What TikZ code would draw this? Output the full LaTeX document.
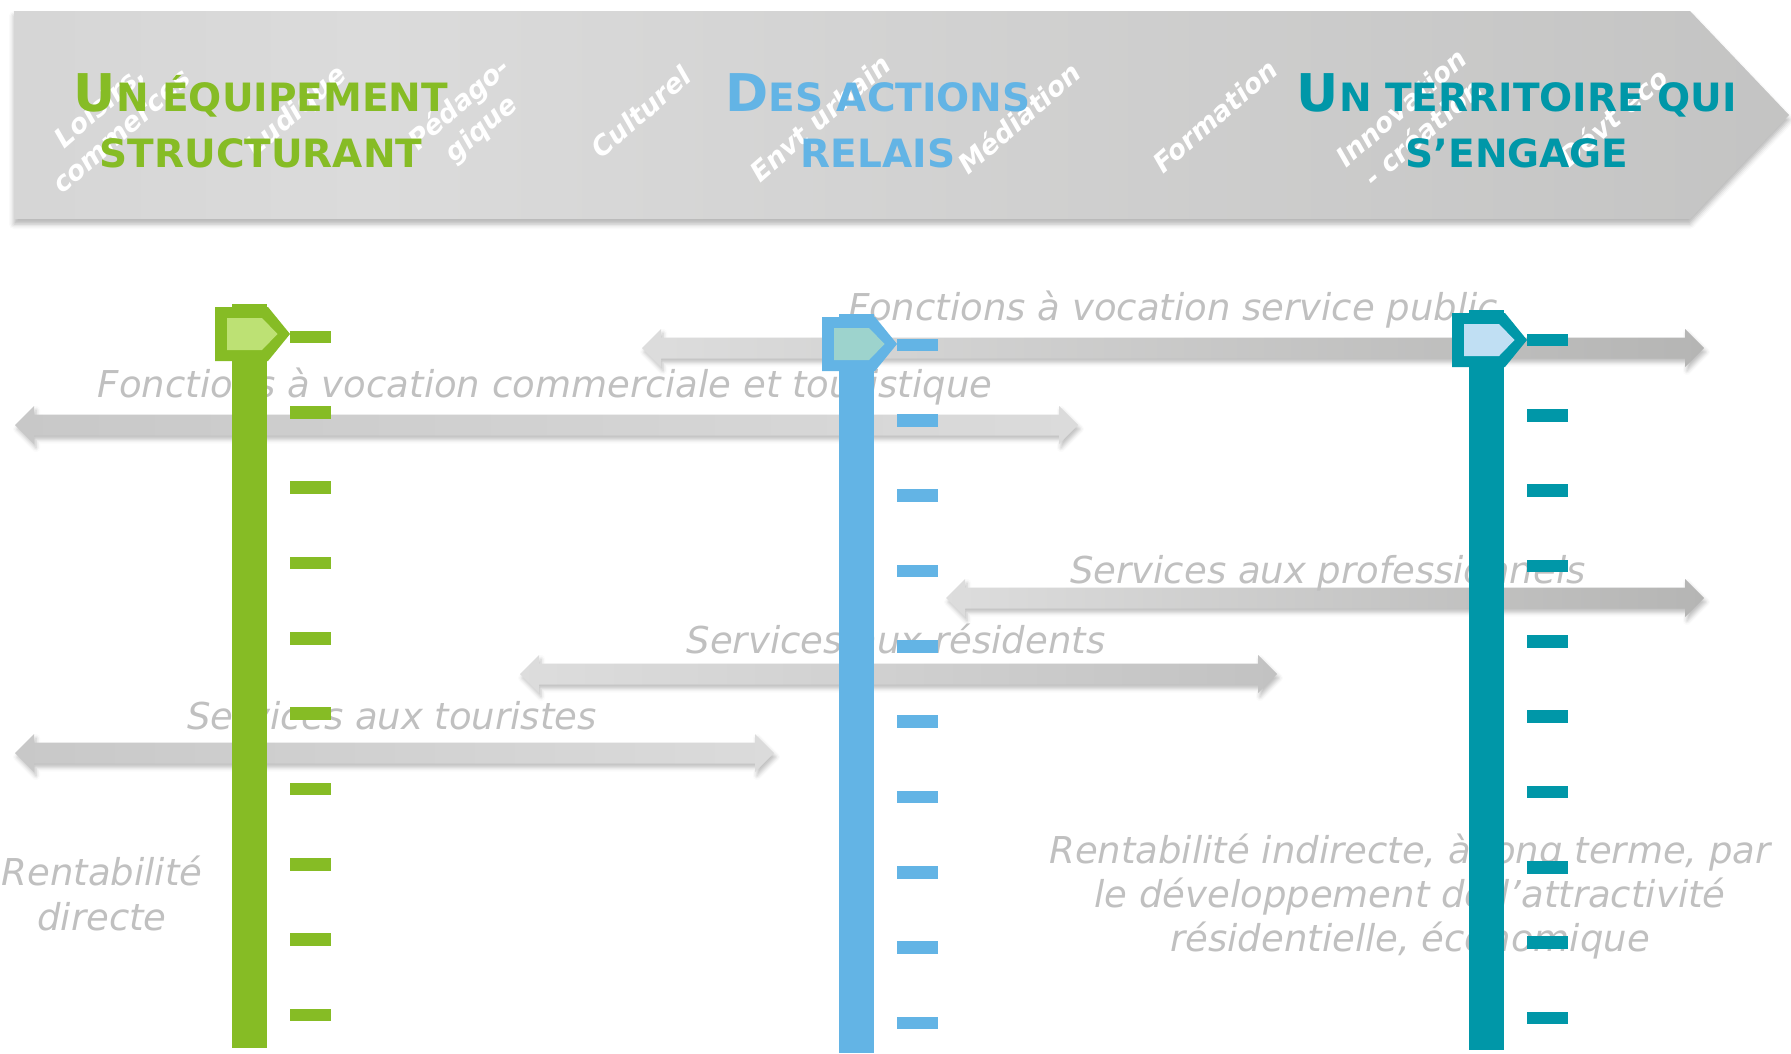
\documentclass[tikz,border=0pt]{standalone}
\usepackage{fontspec}
\setmainfont{DejaVu Sans}
\usetikzlibrary{calc,shadows.blur}
\definecolor{grn}{RGB}{134,188,37}
\definecolor{grnlt}{RGB}{189,225,116}
\definecolor{blu}{RGB}{99,180,229}
\definecolor{blult}{RGB}{157,211,205}
\definecolor{tea}{RGB}{0,151,168}
\definecolor{tealt}{RGB}{192,223,243}
\definecolor{lblgray}{RGB}{192,192,192}
\definecolor{bnA}{RGB}{200,200,200}
\definecolor{bnB}{RGB}{219,219,219}
\definecolor{bnC}{RGB}{181,181,180}
\pgfdeclarehorizontalshading{bannershade}{100bp}{color(0bp)=(bnA); color(35bp)=(bnB); color(100bp)=(bnC)}
\tikzset{
  band/.style={blur shadow={shadow xshift=2pt,shadow yshift=-4pt,shadow blur radius=4pt,shadow opacity=25}},
  lbl/.style={text=lblgray,font=\fontsize{37}{44}\selectfont\itshape,anchor=base,inner sep=0pt},
  word/.style={text=white,font=\fontsize{27}{33}\selectfont\bfseries\itshape,rotate=41,align=center,inner sep=0pt},
  ttl/.style={font=\fontsize{39}{56}\selectfont\bfseries,anchor=base,inner sep=0pt}
}
\newcommand{\capfirst}[1]{{\fontsize{52}{56}\selectfont #1}}
\newcommand{\grayband}[4]{\path[band,left color=#3,right color=#4] (#1) -- ++(19,-19) -- ++(0,8.5) -- ($(#2)+(-19,-10.5)$) -- ++(0,-8.5) -- (#2) -- ++(-19,19) -- ++(0,-8.5) -- ($(#1)+(19,10.5)$) -- ++(0,8.5) -- cycle;}
\newcommand{\pillar}[6]{%
  \fill[#4] (#1-17.5,#2-3) rectangle (#1+17.5,#3);
  \fill[#4] (#1-34.5,#2) -- (#1+18.5,#2) -- (#1+40.5,#2+27) -- (#1+18.5,#2+54) -- (#1-34.5,#2+54) -- cycle;
  \fill[#5] (#1-22.5,#2+11) -- (#1+12.5,#2+11) -- (#1+28,#2+27) -- (#1+12.5,#2+43) -- (#1-22.5,#2+43) -- cycle;
  \foreach \k in {0,...,9} \fill[#4] (#1+40.5,#6+75.33*\k-6.25) rectangle (#1+81,#6+75.33*\k+6.25);}
\begin{document}
\begin{tikzpicture}[x=1pt,y=-1pt]
\useasboundingbox (0,0) rectangle (1791,1053);
\path[blur shadow={shadow xshift=0pt,shadow yshift=-5pt,shadow blur radius=5pt,shadow opacity=30},shading=bannershade] (14,11) -- (1690,11) -- (1789,115) -- (1690,219) -- (14,219) -- cycle;
\node[word] (w1) at (110,118) {Loisirs,\\commerces};
\node[word] (w2) at (297,112) {Ludique};
\node[word] (w3) at (471,117) {Pédago-\\gique};
\node[word] (w4) at (641,112) {Culturel};
\node[word] (w5) at (820,118) {Envt urbain};
\node[word] (w6) at (1019,118) {Médiation};
\node[word] (w7) at (1215,116) {Formation};
\node[word] (w8) at (1412,120) {Innovation\\- création};
\node[word] (w9) at (1613,117) {Dévt éco};
\node[ttl,text=grn] (t1a) at (261,111) {\capfirst{U}N ÉQUIPEMENT};
\node[ttl,text=grn] (t1b) at (261,167) {STRUCTURANT};
\node[ttl,text=blu] (t2a) at (878,111) {\capfirst{D}ES ACTIONS};
\node[ttl,text=blu] (t2b) at (878,167) {RELAIS};
\node[ttl,text=tea] (t3a) at (1517,111) {\capfirst{U}N TERRITOIRE QUI};
\node[ttl,text=tea] (t3b) at (1517,167) {S’ENGAGE};
\coordinate (pubL) at (642,348);
\coordinate (pubR) at (1704,348);
\coordinate (comL) at (15,425);
\coordinate (comR) at (1078,425);
\coordinate (proL) at (946,598);
\coordinate (proR) at (1704,598);
\coordinate (resL) at (520,674);
\coordinate (resR) at (1277,674);
\coordinate (touL) at (15,753);
\coordinate (touR) at (774,753);
\grayband{pubL}{pubR}{bnB!95!white}{bnC}
\grayband{comL}{comR}{bnA}{bnB}
\grayband{proL}{proR}{bnB!95!white}{bnC}
\grayband{resL}{resR}{bnB!95!white}{bnA!97!black}
\grayband{touL}{touR}{bnA}{bnB}
\node[lbl] (pub) at (1173,320) {Fonctions à vocation service public};
\node[lbl] (com) at (545,397) {Fonctions à vocation commerciale et touristique};
\node[lbl] (pro) at (1328,583) {Services aux professionnels};
\node[lbl] (res) at (896,653) {Services aux résidents};
\node[lbl] (tou) at (392,729) {Services aux touristes};
\node[lbl] (rd1) at (102,885) {Rentabilité};
\node[lbl] (rd2) at (102,930) {directe};
\node[lbl] (ri1) at (1410,863) {Rentabilité indirecte, à long terme, par};
\node[lbl] (ri2) at (1410,907) {le développement de l’attractivité};
\node[lbl] (ri3) at (1410,951) {résidentielle, économique};
\pillar{249.5}{307}{1048}{grn}{grnlt}{337}
\pillar{856.5}{317}{1053}{blu}{blult}{345}
\pillar{1486.5}{313}{1050}{tea}{tealt}{340}
\end{tikzpicture}
\end{document}
